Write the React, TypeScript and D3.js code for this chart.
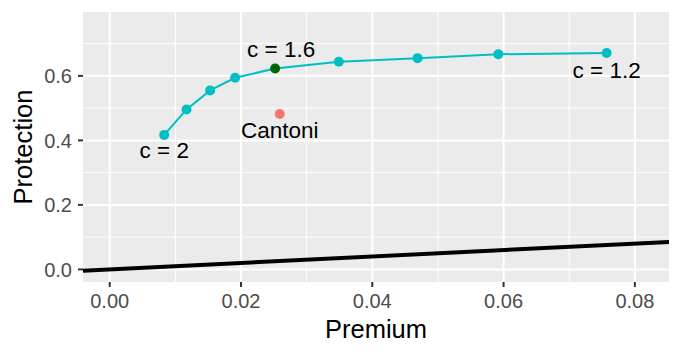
import React from 'react';
import * as d3 from 'd3';

// frontier points, c from 2 down to 1.2
const cValues = [2, 1.9, 1.8, 1.7, 1.6, 1.5, 1.4, 1.3, 1.2];
const premium = [0.0083, 0.0117, 0.0153, 0.0191, 0.0252, 0.0349, 0.0469, 0.0592, 0.0757];
const protection = [0.417, 0.496, 0.555, 0.594, 0.623, 0.644, 0.655, 0.667, 0.671];

const cantoniPremium = 0.0259;
const cantoniProtection = 0.482;

const xTicks = [0, 0.02, 0.04, 0.06, 0.08];
const xMinor = [0.01, 0.03, 0.05, 0.07];
const yTicks = [0, 0.2, 0.4, 0.6];
const yMinor = [0.1, 0.3, 0.5, 0.7];

const W = 681;
const H = 355;
const panel = { left: 83, right: 669, top: 12, bottom: 282 };
const font = '"Liberation Sans", Arial, Helvetica, sans-serif';

export default function App() {
  const x = d3.scaleLinear().domain([-0.00407, 0.0852]).range([panel.left, panel.right]);
  const y = d3.scaleLinear().domain([-0.039, 0.798]).range([panel.bottom, panel.top]);

  const pts = premium.map((p, i) => ({ p, v: protection[i], c: cValues[i] }));
  const line = d3.line<{ p: number; v: number }>().x(d => x(d.p)).y(d => y(d.v));

  const first = pts[0];
  const mid = pts.find(d => d.c === 1.6)!;
  const last = pts[pts.length - 1];
  const [dx0, dx1] = x.domain();

  return (
    <svg width={W} height={H} style={{ position: 'absolute', left: 0, top: 0, background: '#fff' }}>
      <defs>
        <clipPath id="panel-clip">
          <rect x={panel.left} y={panel.top} width={panel.right - panel.left} height={panel.bottom - panel.top} />
        </clipPath>
      </defs>
      <rect x={panel.left} y={panel.top} width={panel.right - panel.left} height={panel.bottom - panel.top} fill="#EBEBEB" />
      {/* minor grid */}
      {xMinor.map(t => (
        <line key={'xm' + t} x1={x(t)} x2={x(t)} y1={panel.top} y2={panel.bottom} stroke="#fff" strokeWidth={1} />
      ))}
      {yMinor.map(t => (
        <line key={'ym' + t} y1={y(t)} y2={y(t)} x1={panel.left} x2={panel.right} stroke="#fff" strokeWidth={1} />
      ))}
      {/* major grid */}
      {xTicks.map(t => (
        <line key={'xg' + t} x1={x(t)} x2={x(t)} y1={panel.top} y2={panel.bottom} stroke="#fff" strokeWidth={2} />
      ))}
      {yTicks.map(t => (
        <line key={'yg' + t} y1={y(t)} y2={y(t)} x1={panel.left} x2={panel.right} stroke="#fff" strokeWidth={2} />
      ))}

      <g clipPath="url(#panel-clip)">
        {/* premium = protection */}
        <line x1={x(dx0)} y1={y(dx0)} x2={x(dx1)} y2={y(dx1)} stroke="#000" strokeWidth={4} />
        <path d={line(pts) || ''} fill="none" stroke="#00BFC4" strokeWidth={2} />
        {pts.map(d => (
          <circle key={d.c} cx={x(d.p)} cy={y(d.v)} r={5} fill={d.c === 1.6 ? '#006400' : '#00BFC4'} />
        ))}
        <circle cx={x(cantoniPremium)} cy={y(cantoniProtection)} r={5} fill="#F8766D" />
      </g>

      <g fontFamily={font} fontSize={22.5} fill="#000" textAnchor="middle">
        <text x={x(first.p)} y={y(first.v) + 23}>c = 2</text>
        <text x={x(mid.p) + 6} y={y(mid.v) - 11}>c = 1.6</text>
        <text x={x(last.p)} y={y(last.v) + 25}>c = 1.2</text>
        <text x={x(cantoniPremium)} y={y(cantoniProtection) + 24}>Cantoni</text>
      </g>

      {/* axes */}
      <g fontFamily={font} fontSize={20} fill="#4D4D4D">
        {xTicks.map(t => (
          <g key={'xt' + t}>
            <line x1={x(t)} x2={x(t)} y1={panel.bottom} y2={panel.bottom + 5} stroke="#333" strokeWidth={2} />
            <text x={x(t)} y={308} textAnchor="middle">{d3.format('.2f')(t)}</text>
          </g>
        ))}
        {yTicks.map(t => (
          <g key={'yt' + t}>
            <line x1={panel.left - 5} x2={panel.left} y1={y(t)} y2={y(t)} stroke="#333" strokeWidth={2} />
            <text x={72} y={y(t)} dy="0.36em" textAnchor="end">{d3.format('.1f')(t)}</text>
          </g>
        ))}
      </g>
      <text x={(panel.left + panel.right) / 2} y={338} textAnchor="middle" fontFamily={font} fontSize={25.5} fill="#000">Premium</text>
      <text transform={`translate(32,${(panel.top + panel.bottom) / 2}) rotate(-90)`} textAnchor="middle" fontFamily={font} fontSize={25.5} fill="#000">Protection</text>
    </svg>
  );
}
